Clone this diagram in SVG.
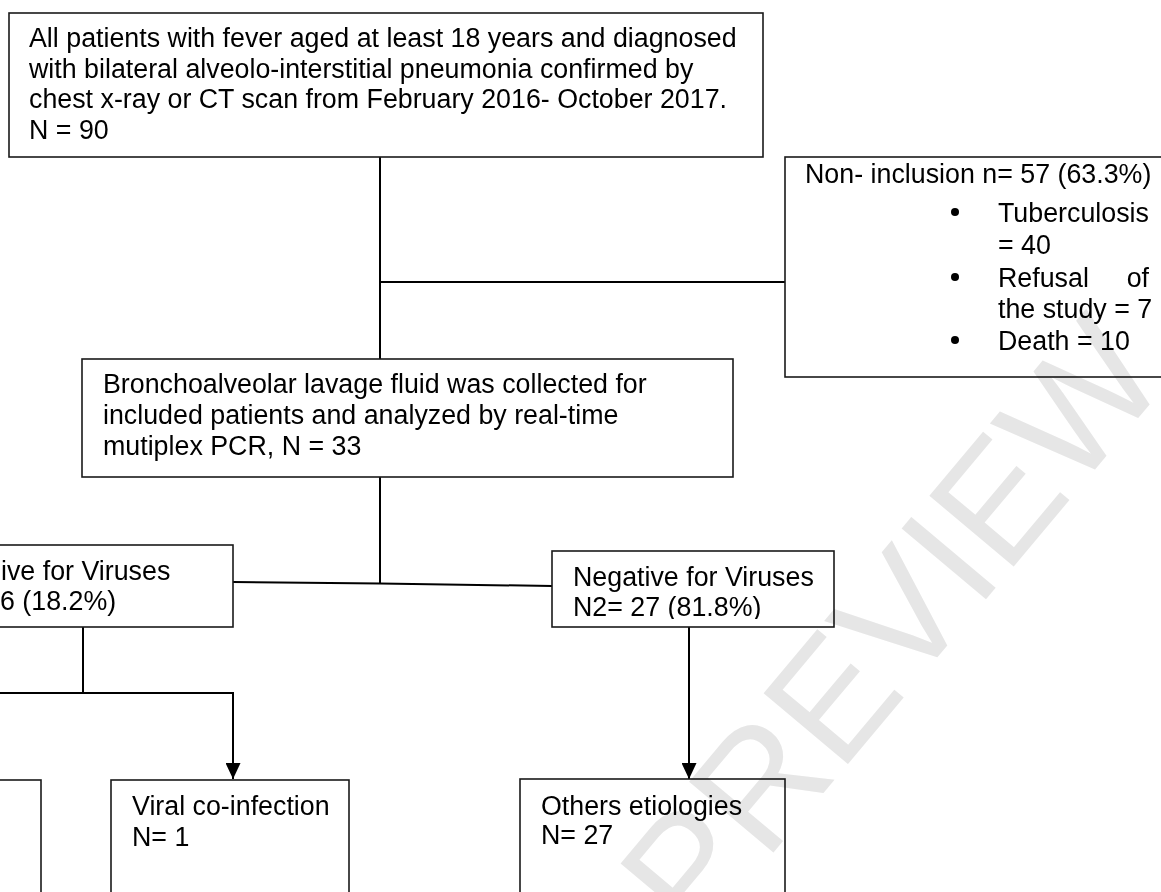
<svg xmlns="http://www.w3.org/2000/svg" width="1161" height="892" viewBox="0 0 1161 892">
<defs>
<style>
.box{fill:#fff;stroke:#1a1a1a;stroke-width:1.6}
.ln{fill:none;stroke:#000;stroke-width:2}
.t{font-family:"Liberation Sans",Arial,Helvetica,sans-serif;font-size:26.8px;fill:#000}
.wm{font-family:"Liberation Sans",Arial,sans-serif;font-size:160px;fill:#e6e6e6;mix-blend-mode:multiply}
</style>
<marker id="arr" markerUnits="userSpaceOnUse" markerWidth="16" markerHeight="15" refX="16" refY="7.5" orient="auto" viewBox="0 0 16 15">
<path d="M0,0 L16,7.5 L0,15 z" fill="#000"/>
</marker>
<clipPath id="negclip"><rect x="552" y="551" width="282" height="68"/></clipPath>
</defs>
<rect width="1161" height="892" fill="#fff"/>

<g id="connectors">
<path class="ln" d="M380,157 V359"/>
<path class="ln" d="M380,282 H785"/>
<path class="ln" d="M380,477 V583.5"/>
<path class="ln" d="M233,582 L380,583.5 L552,586"/>
<path class="ln" d="M83,627 V693"/>
<path class="ln" d="M0,693 H233 V779" marker-end="url(#arr)"/>
<path class="ln" d="M689,627 V779" marker-end="url(#arr)"/>
</g>

<g id="node-all">
<rect class="box" x="9" y="13" width="754" height="144"/>
<text class="t" x="29" y="47">All patients with fever aged at least 18 years and diagnosed</text>
<text class="t" x="29" y="77.5">with bilateral alveolo-interstitial pneumonia confirmed by</text>
<text class="t" x="29" y="108">chest x-ray or CT scan from February 2016- October 2017.</text>
<text class="t" x="29" y="139">N = 90</text>
</g>

<g id="node-noninclusion">
<rect class="box" x="785" y="157" width="400" height="220"/>
<text class="t" x="805" y="183">Non- inclusion n= 57 (63.3%)</text>
<circle cx="955" cy="212" r="4"/>
<text class="t" x="998" y="222">Tuberculosis</text>
<text class="t" x="998" y="254">= 40</text>
<circle cx="955" cy="277" r="4"/>
<text class="t" x="998" y="287">Refusal</text>
<text class="t" x="1149" y="287" text-anchor="end">of</text>
<text class="t" x="998" y="318">the study = 7</text>
<circle cx="955" cy="340" r="4"/>
<text class="t" x="998" y="350">Death = 10</text>
</g>

<g id="node-bal">
<rect class="box" x="82" y="359" width="651" height="118"/>
<text class="t" x="103" y="393">Bronchoalveolar lavage fluid was collected for</text>
<text class="t" x="103" y="424">included patients and analyzed by real-time</text>
<text class="t" x="103" y="455">mutiplex PCR, N = 33</text>
</g>

<g id="node-positive">
<rect class="box" x="-10" y="545" width="243" height="82"/>
<text class="t" x="1" y="580">ive for Viruses</text>
<text class="t" x="0" y="610">6 (18.2%)</text>
</g>

<g id="node-negative">
<rect class="box" x="552" y="551" width="282" height="76"/>
<text class="t" x="573" y="586">Negative for Viruses</text>
<text class="t" x="573" y="616" clip-path="url(#negclip)">N2= 27 (81.8%)</text>
</g>

<g id="node-left">
<rect class="box" x="-10" y="780" width="51" height="130"/>
</g>

<g id="node-coinfection">
<rect class="box" x="111" y="780" width="238" height="130"/>
<text class="t" x="132" y="815">Viral co-infection</text>
<text class="t" x="132" y="846">N= 1</text>
</g>

<g id="node-others">
<rect class="box" x="520" y="779" width="265" height="130"/>
<text class="t" x="541" y="815">Others etiologies</text>
<text class="t" x="541" y="844">N= 27</text>
</g>

<text class="wm" transform="translate(890,625) rotate(-50)" x="0" y="57" text-anchor="middle">PREVIEW</text>
</svg>
